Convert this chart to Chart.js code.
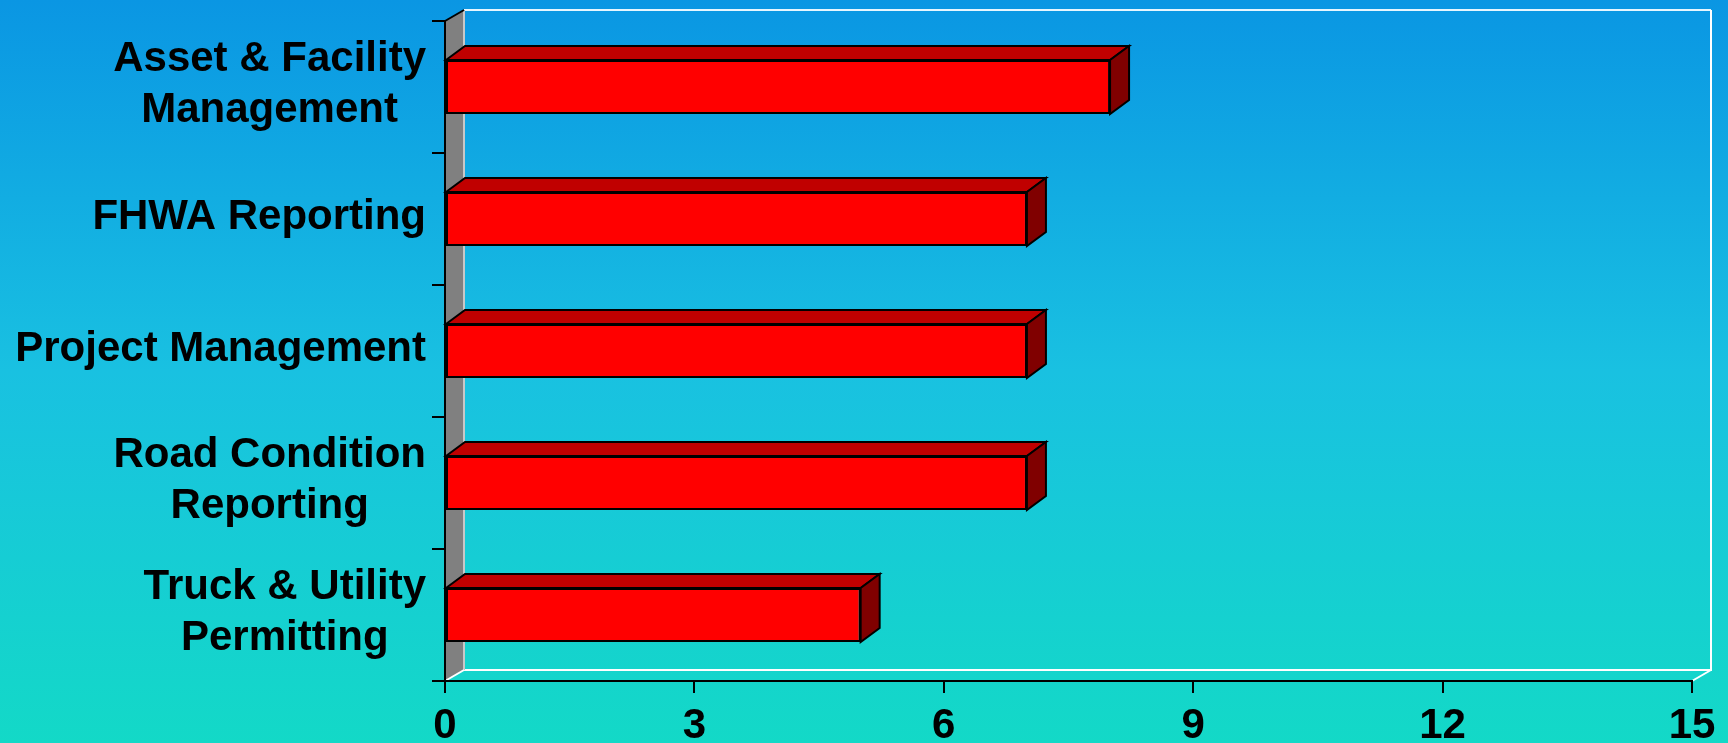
<!DOCTYPE html>
<html>
<head>
<meta charset="utf-8">
<script src="https://cdn.jsdelivr.net/npm/chart.js@4.4.1/dist/chart.umd.min.js"></script>
<style>
  html, body { margin: 0; padding: 0; overflow: hidden; background: #0a96e3; }
  #wrap { width: 1728px; height: 743px; position: relative; }
  canvas { display: block; }
</style>
</head>
<body>
<div id="wrap"><canvas id="chart" width="1728" height="743"></canvas></div>
<script>
// Applications by business area
const categories = [
  ["Asset & Facility", "Management"],
  ["FHWA Reporting"],
  ["Project Management"],
  ["Road Condition", "Reporting"],
  ["Truck & Utility", "Permitting"]
];
const counts = [8, 7, 7, 7, 5];
const xTicks = [0, 3, 6, 9, 12, 15];

const FAMILY = "'Liberation Sans', Arial, sans-serif";
const LABEL_FONT = "bold 42px " + FAMILY;
const BAR_DEPTH = { dx: 19, dy: -14 };   // extrusion of each bar
const WALL_DEPTH = { dx: 19, dy: -11 };  // extrusion of the plot box

function poly(ctx, pts) {
  ctx.beginPath();
  ctx.moveTo(pts[0][0], pts[0][1]);
  for (let i = 1; i < pts.length; i++) ctx.lineTo(pts[i][0], pts[i][1]);
  ctx.closePath();
  ctx.fill();
  ctx.stroke();
}

// Background, back wall outline, left side wall, bar extrusions and category labels
const scenePlugin = {
  id: 'scene',
  beforeDraw(chart) {
    const { ctx, width, height, chartArea: a } = chart;
    ctx.save();
    const g = ctx.createLinearGradient(0, 0, 0, height);
    g.addColorStop(0, '#0a96e3');
    g.addColorStop(0.5, '#19c1e1');
    g.addColorStop(1, '#13d9c7');
    ctx.fillStyle = g;
    ctx.fillRect(0, 0, width, height);

    const bx = a.left + WALL_DEPTH.dx, br = a.right + WALL_DEPTH.dx;
    const bt = a.top + WALL_DEPTH.dy, bb = a.bottom + WALL_DEPTH.dy;

    ctx.lineWidth = 2;
    ctx.strokeStyle = '#e6f6ff';
    ctx.beginPath();
    ctx.moveTo(bx, bt); ctx.lineTo(br, bt);
    ctx.stroke();
    ctx.strokeStyle = '#ffffff';
    ctx.beginPath();
    ctx.moveTo(br, bt); ctx.lineTo(br, bb); ctx.lineTo(bx, bb);
    ctx.stroke();
    ctx.beginPath();
    ctx.moveTo(a.right, a.bottom); ctx.lineTo(br, bb);
    ctx.stroke();

    // side wall
    ctx.fillStyle = '#808080';
    ctx.beginPath();
    ctx.moveTo(a.left, a.top); ctx.lineTo(bx, bt); ctx.lineTo(bx, bb); ctx.lineTo(a.left, a.bottom);
    ctx.closePath();
    ctx.fill();
    ctx.strokeStyle = '#c8c8c8';
    ctx.beginPath(); ctx.moveTo(bx, bt); ctx.lineTo(bx, bb); ctx.stroke();
    ctx.strokeStyle = '#000000';
    ctx.beginPath(); ctx.moveTo(a.left, a.top); ctx.lineTo(bx, bt); ctx.stroke();
    ctx.strokeStyle = '#ffffff';
    ctx.beginPath(); ctx.moveTo(a.left, a.bottom); ctx.lineTo(bx, bb); ctx.stroke();
    ctx.restore();
  },
  afterDatasetsDraw(chart) {
    const ctx = chart.ctx;
    const meta = chart.getDatasetMeta(0);
    const { dx, dy } = BAR_DEPTH;
    ctx.save();
    ctx.lineWidth = 2;
    ctx.strokeStyle = '#000000';
    ctx.lineJoin = 'miter';
    meta.data.forEach(bar => {
      const { x, y, base, height } = bar.getProps(['x', 'y', 'base', 'height'], true);
      const t = y - height / 2, b = y + height / 2;
      ctx.fillStyle = '#c00000';
      poly(ctx, [[base, t], [base + dx, t + dy], [x + dx, t + dy], [x, t]]);
      ctx.fillStyle = '#800000';
      poly(ctx, [[x, t], [x + dx, t + dy], [x + dx, b + dy], [x, b]]);
    });
    ctx.restore();
  },
  afterDraw(chart) {
    const ctx = chart.ctx;
    const ys = chart.scales.y;
    const right = 426;
    ctx.save();
    ctx.font = LABEL_FONT;
    ctx.fillStyle = '#000000';
    ctx.textBaseline = 'alphabetic';
    categories.forEach((lines, i) => {
      const cy = ys.getPixelForTick(i);
      if (lines.length === 1) {
        ctx.textAlign = 'right';
        ctx.fillText(lines[0], right, cy + 10);
      } else {
        const w = ctx.measureText(lines[0]).width;
        const cx = right - w / 2;
        ctx.textAlign = 'center';
        ctx.fillText(lines[0], cx, cy - 16);
        ctx.fillText(lines[1], cx, cy + 35);
      }
    });
    ctx.restore();
  }
};

new Chart(document.getElementById('chart'), {
  type: 'bar',
  data: {
    labels: categories,
    datasets: [{
      data: counts,
      backgroundColor: '#ff0000',
      borderColor: '#000000',
      borderWidth: 2,
      borderSkipped: false,
      categoryPercentage: 1,
      barPercentage: 0.41
    }]
  },
  options: {
    indexAxis: 'y',
    responsive: false,
    animation: false,
    devicePixelRatio: 1,
    layout: { padding: { top: 21, right: 36, left: 0, bottom: 0 } },
    plugins: { legend: { display: false }, tooltip: { enabled: false } },
    scales: {
      x: {
        type: 'linear',
        min: 0,
        max: 15,
        afterBuildTicks(scale) { scale.ticks = xTicks.map(v => ({ value: v })); },
        afterFit(scale) { scale.height = 62; },
        ticks: { color: '#000000', padding: 8, font: { family: FAMILY, size: 42, weight: 'bold' } },
        grid: { drawOnChartArea: false, drawTicks: true, tickLength: 12, color: '#000000', lineWidth: 2 },
        border: { display: true, color: '#000000', width: 2 }
      },
      y: {
        type: 'category',
        offset: true,
        afterFit(scale) { scale.width = 445; },
        ticks: { display: false },
        grid: { offset: true, drawOnChartArea: false, drawTicks: true, tickLength: 13, color: '#000000', lineWidth: 2 },
        border: { display: true, color: '#000000', width: 2 }
      }
    }
  },
  plugins: [scenePlugin]
});
</script>
</body>
</html>
